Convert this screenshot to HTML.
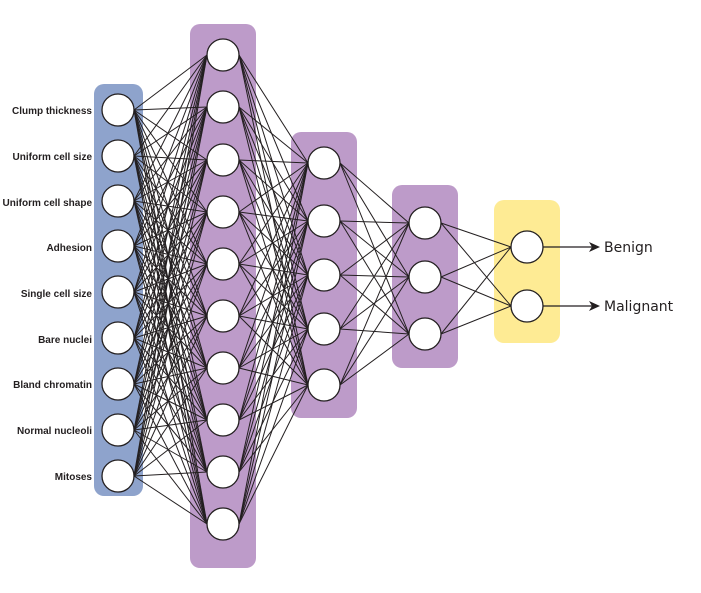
<!DOCTYPE html>
<html><head><meta charset="utf-8"><style>
html,body{margin:0;padding:0;background:#fff;}
svg{display:block;}
.l{font-family:"Liberation Sans",sans-serif;font-weight:bold;font-size:10px;fill:#231f20;}
.o{font-family:"DejaVu Sans","Liberation Sans",sans-serif;font-size:14px;fill:#231f20;}
</style></head><body>
<svg id="s" width="701" height="593" viewBox="0 0 701 593" xmlns="http://www.w3.org/2000/svg">
<rect x="94" y="84" width="49" height="412" rx="10" fill="#8ea3cc"/>
<rect x="190" y="24" width="66" height="544" rx="10" fill="#bd9bc9"/>
<rect x="291" y="132" width="66" height="286" rx="10" fill="#bd9bc9"/>
<rect x="392" y="185" width="66" height="183" rx="10" fill="#bd9bc9"/>
<rect x="494" y="200" width="66" height="143" rx="10" fill="#feeb94"/>
<g id="edges" stroke="#231f20" stroke-width="1"></g>
<g id="nodes" fill="#fff" stroke="#231f20" stroke-width="1.3"></g>
<g stroke="#231f20" stroke-width="1.2"><line x1="543" y1="247" x2="592" y2="247"/><line x1="543" y1="306" x2="592" y2="306"/></g>
<polygon points="600,247 589,242 592,247 589,252" fill="#231f20"/>
<polygon points="600,306 589,301 592,306 589,311" fill="#231f20"/>
<text class="o" x="604" y="252">Benign</text>
<text class="o" x="604" y="311">Malignant</text>
<g text-anchor="end">
<text class="l" x="92" y="114">Clump thickness</text>
<text class="l" x="92" y="160">Uniform cell size</text>
<text class="l" x="92" y="206">Uniform cell shape</text>
<text class="l" x="92" y="251">Adhesion</text>
<text class="l" x="92" y="297">Single cell size</text>
<text class="l" x="92" y="343">Bare nuclei</text>
<text class="l" x="92" y="388">Bland chromatin</text>
<text class="l" x="92" y="434">Normal nucleoli</text>
<text class="l" x="92" y="480">Mitoses</text>
</g>
</svg>
<script>
var L=[{x:118,ys:[110,156,201,246,292,338,384,430,476]},
{x:223,ys:[55,107,160,212,264,316,368,420,472,524]},
{x:324,ys:[163,221,275,329,385]},
{x:425,ys:[223,277,334]},
{x:527,ys:[247,306]}];
var r=16,ns="http://www.w3.org/2000/svg",E=document.getElementById('edges'),N=document.getElementById('nodes');
for(var i=0;i<L.length-1;i++){var a=L[i],b=L[i+1];a.ys.forEach(function(y1){b.ys.forEach(function(y2){var l=document.createElementNS(ns,'line');l.setAttribute('x1',a.x+r);l.setAttribute('y1',y1);l.setAttribute('x2',b.x-r);l.setAttribute('y2',y2);E.appendChild(l);});});}
L.forEach(function(a){a.ys.forEach(function(y){var c=document.createElementNS(ns,'circle');c.setAttribute('cx',a.x);c.setAttribute('cy',y);c.setAttribute('r',r);N.appendChild(c);});});
</script>
</body></html>
